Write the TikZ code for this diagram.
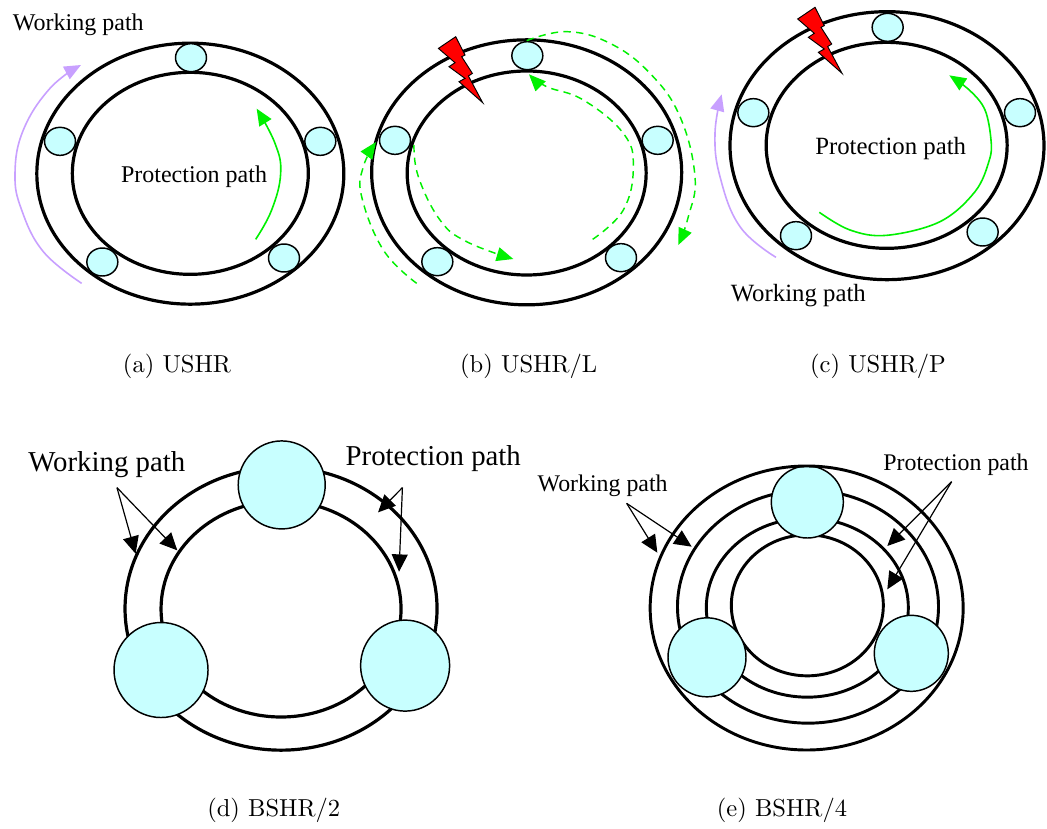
\documentclass[tikz,border=0pt]{standalone}
\usepackage{fontspec}
\newfontfamily\labfont{Liberation Serif}
\usetikzlibrary{shapes.geometric,arrows.meta}
\definecolor{nodecyan}{HTML}{C8FFFF}
\definecolor{pathgreen}{HTML}{00F000}
\definecolor{pathpurple}{HTML}{C8A0FF}
\tikzset{
  dims/.style n args={2}{minimum width=#1*0.75pt,minimum height=#2*0.75pt},
  ring/.style={shape=ellipse,draw=black,line width=2.4pt,inner sep=0pt,outer sep=0pt},
  thinring/.style={ring,line width=2.2pt},
  site/.style={shape=ellipse,draw=black,fill=nodecyan,line width=1.1pt,inner sep=0pt,outer sep=0pt},
  small/.style={site,dims={31}{28}},
  lab/.style={font=\labfont\fontsize{#1}{#1}\selectfont,inner sep=0pt,yshift=-1.5pt},
  captext/.style={font=\fontsize{10}{12}\selectfont,inner sep=0pt,scale=1.84},
  greentip/.style={-{Triangle[length=12.5pt,width=10.5pt]}},
  solidgreen/.style={draw=pathgreen,fill=none,line width=1.2pt},
  dashgreen/.style={draw=pathgreen,line width=1.1pt,dash pattern=on 5.5pt off 4pt},
  solidpurple/.style={draw=pathpurple,line width=1.2pt},
  pointer/.style={draw=black,line width=0.9pt,-{Triangle[length=13pt,width=12pt]}},
  boltshape/.style={draw=black,fill=red,line width=0.7pt,line join=miter},
}
\newcommand{\boltat}[2]{%
  \draw[boltshape] (#1,#2) -- ++(9.3,18.3) -- ++(-3.3,1.7) -- ++(10.7,16.7) -- ++(-4,2.6)
    -- ++(14.3,26.7) -- ++(-23.7,-21) -- ++(6,-3.3) -- ++(-16,-11.7) -- ++(6,-4) -- ++(-16.6,-14.3) -- cycle;}
\begin{document}
\begin{tikzpicture}[x=0.75pt,y=-0.75pt]
\useasboundingbox (0,0) rectangle (1047,829);
% panel a
\begin{scope}[scale=1/3]
  \node[ring,dims={307}{261}] (aouter) at (571,521) {};
  \node[ring,dims={236}{202}] (ainner) at (571,520) {};
  \node[small] (a1) at (573,173) {};
  \node[small] (a2) at (961,424) {};
  \node[small] (a3) at (180,424) {};
  \node[small] (a4) at (307,786) {};
  \node[small] (a5) at (852,774) {};
  \coordinate (ap0) at (245,850);
  \coordinate (ap1) at (243,195);
  \coordinate (ag0) at (767,718);
  \coordinate (ag1) at (770,326);
  \draw[solidpurple,greentip] plot[smooth,tension=0.7] coordinates {(ap0) (130,755) (65,630) (45,520) (70,390) (150,265) (ap1)};
  \draw[solidgreen,greentip] plot[smooth,tension=0.7] coordinates {(ag0) (815,630) (842,520) (825,430) (ag1)};
  \node[lab={18}] (awork) at (235,68) {Working path};
  \node[lab={18}] (aprot) at (582,525) {Protection path};
\end{scope}
% panel b
\begin{scope}[shift={(350,10)},scale=1/3]
  \node[ring,dims={310}{265}] (bouter) at (530,487) {};
  \node[ring,dims={239}{204}] (binner) at (530,489) {};
  \node[small] (b1) at (532,137) {};
  \node[small] (b2) at (923,391) {};
  \node[small] (b3) at (135,391) {};
  \node[small] (b4) at (262,755) {};
  \node[small] (b5) at (813,743) {};
  \coordinate (bd0) at (530,92);
  \coordinate (bd1) at (985,705);
  \coordinate (be0) at (728,688);
  \coordinate (be1) at (537,193);
  \coordinate (bf0) at (192,405);
  \coordinate (bf1) at (490,747);
  \coordinate (bg0) at (200,820);
  \coordinate (bg1) at (78,396);
  \draw[dashgreen,greentip] plot[smooth,tension=0.7] coordinates {(bd0) (650,65) (780,100) (900,190) (990,320) (1035,500) (1015,620) (bd1)};
  \draw[dashgreen,greentip] plot[smooth,tension=0.7] coordinates {(be0) (820,600) (850,470) (820,370) (700,270) (590,230) (be1)};
  \draw[dashgreen,greentip] plot[smooth,tension=0.7] coordinates {(bf0) (205,500) (270,630) (350,695) (bf1)};
  \draw[dashgreen,greentip] plot[smooth,tension=0.7] coordinates {(bg0) (100,720) (35,560) (40,470) (bg1)};
\end{scope}
\boltat{455.7}{36.7}
% panel c
\begin{scope}[shift={(700,0)},scale=1/3]
  \node[ring,dims={314}{268}] (couter) at (561,437) {};
  \node[ring,dims={241}{206}] (cinner) at (560,436) {};
  \node[small] (c1) at (563,82) {};
  \node[small] (c2) at (960,338) {};
  \node[small] (c3) at (160,338) {};
  \node[small] (c4) at (288,707) {};
  \node[small] (c5) at (848,696) {};
  \coordinate (cp0) at (228,772);
  \coordinate (cp1) at (65,283);
  \coordinate (cg0) at (358,637);
  \coordinate (cg1) at (748,226);
  \draw[solidpurple,greentip] plot[smooth,tension=0.7] coordinates {(cp0) (120,680) (60,530) (45,400) (cp1)};
  \draw[solidgreen,greentip] plot[smooth,tension=0.6] coordinates {(cg0) (450,690) (560,706) (720,665) (825,575) (868,480) (873,420) (855,330) (810,272) (cg1)};
  \node[lab={18.6}] (cwork) at (295,880) {Working path};
  \node[lab={18.6}] (cprot) at (572,440) {Protection path};
\end{scope}
\boltat{815}{7.3}
% panel d
\begin{scope}[shift={(0,430)},scale=1/2.95]
  \node[ring,dims={312}{283}] (douter) at (829,527) {};
  \node[ring,dims={240}{216}] (dinner) at (829,528) {};
  \node[site,dims={87}{88}] (d1) at (831,162) {};
  \node[site,dims={94}{95}] (d2) at (475,708) {};
  \node[site,dims={89}{91}] (d3) at (1195,695) {};
  \coordinate (dw) at (345,170);
  \coordinate (dw1) at (400,365);
  \coordinate (dw2) at (523,355);
  \coordinate (dq) at (1187,170);
  \coordinate (dq1) at (1115,243);
  \coordinate (dq2) at (1177,418);
  \draw[pointer] (dw) -- (dw1);
  \draw[pointer] (dw) -- (dw2);
  \draw[pointer] (dq) -- (dq1);
  \draw[pointer] (dq) -- (dq2);
  \node[lab={21.6}] (dwork) at (315,95) {Working path};
  \node[lab={21.6}] (dprot) at (1278,78) {Protection path};
\end{scope}
% panel e
\begin{scope}[shift={(530,440)},scale=1/3]
  \node[thinring,dims={261}{233}] (e3) at (834,500) {};
  \node[thinring,dims={202}{179}] (e2) at (832,503) {};
  \node[thinring,dims={152}{141}] (e1) at (832,496) {};
  \node[site,dims={72}{72}] (e5) at (832,186) {};
  \node[site,dims={78}{79}] (e6) at (531,652) {};
  \node[site,dims={74}{76}] (e7) at (1144,640) {};
  \node[thinring,dims={313}{284}] (e4) at (830,504) {};
  \coordinate (ew) at (290,190);
  \coordinate (ew1) at (382,338);
  \coordinate (ew2) at (485,320);
  \coordinate (eq) at (1265,125);
  \coordinate (eq1) at (1072,318);
  \coordinate (eq2) at (1072,448);
  \draw[pointer] (ew) -- (ew1);
  \draw[pointer] (ew) -- (ew2);
  \draw[pointer] (eq) -- (eq1);
  \draw[pointer] (eq) -- (eq2);
  \node[lab={17.9}] (ework) at (218,130) {Working path};
  \node[lab={17.9}] (eprot) at (1278,68) {Protection path};
\end{scope}
% captions
\node[captext] (capa) at (177,366) {(a) USHR};
\node[captext] (capb) at (528.7,366) {(b) USHR/L};
\node[captext] (capc) at (878,366) {(c) USHR/P};
\node[captext] (capd) at (273.7,810) {(d) BSHR/2};
\node[captext] (cape) at (782,810) {(e) BSHR/4};
\end{tikzpicture}
\end{document}
